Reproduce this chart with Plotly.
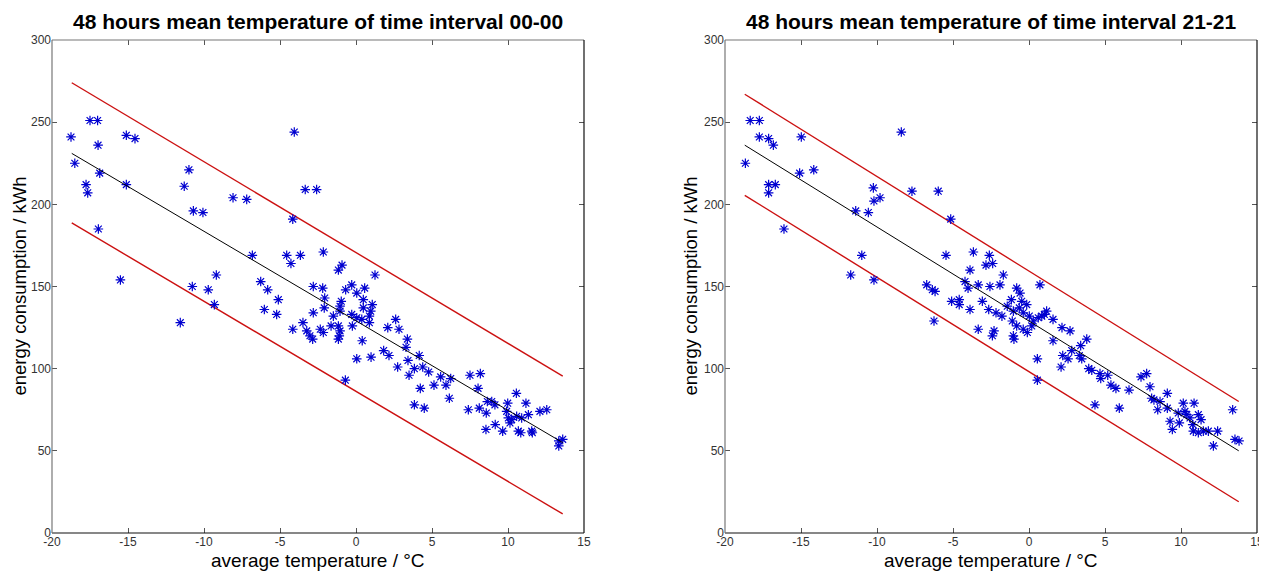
import plotly.graph_objects as go

# ---------------- data: interval 00-00 (left panel) ----------------
left_temp = [-18.75, -18.5, -17.5, -17.0, -16.97, -17.76, -17.65, -16.86, -16.95, -15.11,
             -14.54, -15.11, -15.5, -10.99, -11.3, -10.7, -10.07, -8.09, -7.19, -4.06,
             -4.16, -3.34, -2.59, -6.82, -4.56, -4.28, -3.66, -9.19, -6.27, -10.77,
             -9.72, -5.81, -2.81, -9.32, -11.56, -6.03, -5.11, -5.22, -4.16, -2.81,
             -3.49, -3.24, -3.03, -2.85, -2.15, -0.92, -1.16, 1.25, -2.19, -0.68,
             -0.28, 0.05, 0.57, -2.06, -0.97, 0.48, 1.07, -2.09, -1.05, -1.05,
             0.48, 0.97, -1.49, -0.28, 0.05, 0.38, 0.88, 0.88, -0.24, 2.61,
             -2.35, -2.15, -1.64, -1.16, -1.05, -1.1, -1.16, 2.09, 2.83, 0.41,
             1.82, 2.17, 0.05, 0.99, 2.74, -0.7, 3.38, 3.29, 3.42, 4.16,
             3.84, 4.39, 3.49, 4.78, 5.57, 6.23, 5.13, 5.92, 4.23, 7.5,
             8.18, 8.03, 6.14, 3.84, 4.49, 7.39, 8.11, 8.57, 8.64, 8.93,
             9.14, 9.91, 9.98, 10.55, 11.18, 11.34, 12.1, 12.55, 10.02, 10.24,
             10.57, 10.13, 10.9, 9.16, 8.55, 9.65, 10.68, 10.84, 11.56, 11.6,
             13.34, 13.6, 13.34]
left_energy = [241, 225, 251, 251, 236, 212, 207, 219, 185, 242,
               240, 212, 154, 221, 211, 196, 195, 204, 203, 244,
               191, 209, 209, 169, 169, 164, 169, 157, 153, 150,
               148, 148, 150, 139, 128, 136, 142, 133, 124, 134,
               128, 123, 120, 118, 171, 163, 160, 157, 149, 148,
               151, 146, 149, 143, 141, 142, 139, 137, 138, 135,
               137, 135, 132, 133, 131, 130, 132, 128, 126, 130,
               124, 122, 126, 126, 123, 120, 118, 125, 124, 117,
               111, 108, 106, 107, 101, 93, 118, 113, 105, 108,
               100, 101, 96, 98, 95, 94, 90, 90, 88, 96,
               97, 88, 82, 78, 76, 75, 76, 73, 80, 80,
               78, 74, 79, 85, 79, 72, 74, 75, 70, 69,
               71, 67, 70, 66, 63, 62, 62, 61, 62, 61,
               56, 57, 53]
left_line_x = [-18.7, 13.6]
left_fit = [231, 55]
left_upper = [274, 95.5]
left_lower = [188.7, 11.6]

# ---------------- data: interval 21-21 (right panel) ----------------
right_temp = [-18.66, -18.34, -17.74, -17.74, -17.13, -16.82, -17.13, -16.69, -17.13, -16.12,
              -14.98, -15.09, -14.16, -8.4, -10.24, -10.2, -9.8, -11.4, -10.57, -7.7,
              -5.97, -5.15, -11.0, -11.73, -10.2, -5.46, -3.66, -3.88, -6.73, -6.36,
              -6.18, -4.21, -3.34, -2.61, -2.83, -2.39, -1.69, 0.72, -2.57, -1.91,
              -0.81, -4.01, -5.09, -4.59, -4.59, -3.88, -6.25, -3.34, -3.07, -2.65,
              -2.17, -1.78, -2.3, -2.41, -0.59, -1.16, -0.48, -0.15, -0.64, -1.43,
              -1.03, -1.1, -0.81, -0.38, -0.11, -1.03, -0.99, 0.02, 0.28, 0.18,
              0.61, 0.84, 1.01, 1.16, 1.58, 2.17, 1.58, 0.55, 2.22, 2.11,
              0.55, 2.57, 2.7, 3.8, 3.4, 2.81, 3.31, 3.47, 3.93, 4.13,
              4.67, 4.72, 5.18, 5.39, 5.72, 6.58, 4.34, 5.94, 7.37, 7.74,
              7.96, 8.07, 8.22, 8.62, 8.47, 9.1, 9.1, 9.28, 9.43, 9.82,
              9.89, 10.15, 10.26, 10.38, 10.59, 10.86, 10.77, 11.14, 11.32, 10.81,
              11.14, 11.47, 11.8, 12.41, 12.13, 13.4, 13.55, 13.82, -0.38]
right_energy = [225, 251, 251, 241, 240, 236, 212, 212, 207, 185,
                241, 219, 221, 244, 210, 202, 204, 196, 195, 208,
                208, 191, 169, 157, 154, 169, 171, 160, 151, 148,
                147, 153, 151, 169, 163, 164, 157, 151, 150, 151,
                149, 149, 141, 142, 139, 136, 129, 124, 141, 136,
                134, 132, 123, 120, 146, 142, 141, 139, 137, 138,
                135, 129, 126, 124, 122, 120, 118, 132, 129, 126,
                131, 132, 133, 135, 130, 125, 117, 106, 108, 101,
                93, 106, 123, 118, 114, 111, 108, 106, 100, 99,
                97, 94, 96, 90, 88, 87, 78, 76, 95, 97,
                89, 82, 81, 80, 75, 85, 76, 68, 63, 73,
                67, 79, 74, 72, 70, 79, 66, 72, 69, 62,
                61, 62, 62, 62, 53, 75, 57, 56, 134]
right_line_x = [-18.7, 13.8]
right_fit = [236, 50]
right_upper = [267, 80]
right_lower = [205.5, 19]

titles = ["48 hours mean temperature of time interval 00-00",
          "48 hours mean temperature of time interval 21-21"]
x_label = "average temperature / °C"
y_label = "energy consumption / kWh"
x_ticks = [-20, -15, -10, -5, 0, 5, 10, 15]
y_ticks = [0, 50, 100, 150, 200, 250, 300]

# ---------------- figure ----------------
# The page body has an 8px default margin, so the figure is offset by (8, 8).
OFF = 8
W, H = 1267 - OFF, 572 - OFF
ML, MT = 52 - OFF, 40 - OFF
MR = W - (1257 - OFF)
MB = H - (533 - OFF)
PW, PH = W - ML - MR, H - MT - MB
FONT = "Arial, Liberation Sans, sans-serif"
BLUE = "#0000d0"
RED = "#cc1111"

fig = go.Figure()

panels = [
    ("x", "y", left_temp, left_energy, left_line_x, left_fit, left_upper, left_lower),
    ("x2", "y2", right_temp, right_energy, right_line_x, right_fit, right_upper, right_lower),
]
for xa, ya, tx, ey, lx, fit, up, lo in panels:
    fig.add_trace(go.Scatter(x=lx, y=up, mode="lines", line=dict(color=RED, width=1.4),
                             xaxis=xa, yaxis=ya, showlegend=False, hoverinfo="skip"))
    fig.add_trace(go.Scatter(x=lx, y=lo, mode="lines", line=dict(color=RED, width=1.4),
                             xaxis=xa, yaxis=ya, showlegend=False, hoverinfo="skip"))
    fig.add_trace(go.Scatter(x=tx, y=ey, mode="markers",
                             marker=dict(symbol="asterisk-open", size=8,
                                         line=dict(color=BLUE, width=1.2), color=BLUE),
                             xaxis=xa, yaxis=ya, showlegend=False))
    fig.add_trace(go.Scatter(x=lx, y=fit, mode="lines", line=dict(color="black", width=1),
                             xaxis=xa, yaxis=ya, showlegend=False, hoverinfo="skip"))


def px_x(p):
    """page pixel x -> paper fraction"""
    return (p - OFF - ML) / PW


def px_y(p):
    """page pixel y -> paper fraction"""
    return (H - MB - (p - OFF)) / PH


x_domains = [[0, px_x(584)], [px_x(725), 1]]
y_domain = [0, 1]

axis_common = dict(showgrid=False, zeroline=False, showline=False, automargin=False,
                   ticks="inside", ticklen=5, tickcolor="#555", tickwidth=1,
                   tickfont=dict(family=FONT, size=12, color="#333"))

layout = dict(width=W, height=H, margin=dict(l=ML, r=MR, t=MT, b=MB, pad=0, autoexpand=False),
              paper_bgcolor="white", plot_bgcolor="white", showlegend=False)
for i, (xa, ya) in enumerate([("xaxis", "yaxis"), ("xaxis2", "yaxis2")]):
    xref = "x" if i == 0 else "x2"
    yref = "y" if i == 0 else "y2"
    layout[xa] = dict(axis_common, domain=x_domains[i], range=[-20, 15],
                      tickvals=x_ticks, ticktext=[str(v) for v in x_ticks],
                      anchor=yref, mirror="ticks")
    layout[ya] = dict(axis_common, domain=y_domain, range=[0, 300],
                      tickvals=y_ticks, ticktext=[str(v) for v in y_ticks],
                      anchor=xref, mirror="ticks")
fig.update_layout(**layout)

shapes = []
annotations = []
for i in range(2):
    xr = "x" if i == 0 else "x2"
    yr = "y" if i == 0 else "y2"
    for (x0, y0, x1, y1, col) in [(0, 0, 1, 0, "#111"), (0, 1, 1, 1, "#777"),
                                   (0, 0, 0, 1, "#777"), (1, 0, 1, 1, "#111")]:
        shapes.append(dict(type="line", xref=f"{xr} domain", yref=f"{yr} domain",
                           x0=x0, y0=y0, x1=x1, y1=y1, line=dict(color=col, width=1.2)))
    cx = (x_domains[i][0] + x_domains[i][1]) / 2
    annotations.append(dict(text=f"<b>{titles[i]}</b>", x=cx, y=px_y(21), xref="paper",
                            yref="paper", showarrow=False, xanchor="center", yanchor="middle",
                            font=dict(family=FONT, size=21, color="black")))
    annotations.append(dict(text=x_label, x=cx, y=px_y(560), xref="paper", yref="paper",
                            showarrow=False, xanchor="center", yanchor="middle",
                            font=dict(family=FONT, size=19, color="black")))
    ylx = px_x(19) if i == 0 else px_x(690)
    annotations.append(dict(text=y_label, x=ylx, y=0.5,
                            xref="paper", yref="paper", showarrow=False, textangle=-90,
                            xanchor="center", yanchor="middle",
                            font=dict(family=FONT, size=18.5, color="black")))
fig.update_layout(shapes=shapes, annotations=annotations)

fig.write_html("out.html")
